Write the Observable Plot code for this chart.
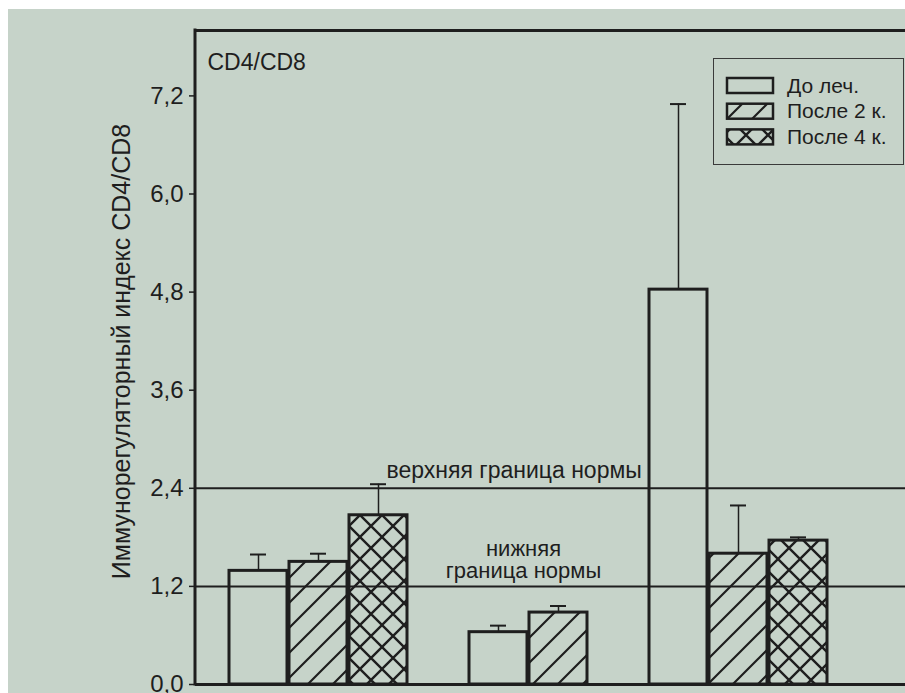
<!DOCTYPE html>
<html><head><meta charset="utf-8">
<script src="https://cdn.jsdelivr.net/npm/d3@7"></script>
<script src="https://cdn.jsdelivr.net/npm/@observablehq/plot@0.6"></script>
<style>
body{margin:0;background:#fff;font-family:"Liberation Sans",Arial,sans-serif;}
#wrap{position:absolute;left:8px;top:9px;width:897px;height:684px;background:#c6d3c9;overflow:hidden;}
#legend{position:absolute;left:705px;top:49px;}
</style></head><body>
<svg width="0" height="0" style="position:absolute">
<defs>
<pattern id="hatch" patternUnits="userSpaceOnUse" width="25" height="25">
<path d="M-3,3 L3,-3 M0,25 L25,0 M22,28 L28,22" stroke="#1e1e1e" stroke-width="2.2" fill="none"/>
</pattern>
<pattern id="cross" patternUnits="userSpaceOnUse" width="22" height="22">
<path d="M0,22 L22,0 M-3,3 L3,-3 M19,25 L25,19 M0,0 L22,22 M-3,19 L3,25 M19,-3 L25,3" stroke="#1e1e1e" stroke-width="2.4" fill="none"/>
</pattern>
</defs></svg>
<div id="wrap"><div id="legend"></div></div>
<script>
const groups = ["Группа 1", "Группа 2", "Группа 3"];
const series = ["До леч.", "После 2 к.", "После 4 к."];
const beforeMean = [1.39, 0.64, 4.83];
const beforeErr  = [0.20, 0.08, 2.27];
const after2Mean = [1.50, 0.88, 1.60];
const after2Err  = [0.10, 0.08, 0.59];
const after4Mean = [2.07, null, 1.76];
const after4Err  = [0.38, null, 0.04];
const yTicks = [0, 1.2, 2.4, 3.6, 4.8, 6.0, 7.2];
const normUpper = 2.4;
const normLower = 1.2;
const upperLabel = "верхняя граница нормы";
const lowerLabel = "нижняя\nграница нормы";
const panelTitle = "CD4/CD8";
const yLabel = "Иммунорегуляторный индекс CD4/CD8";

const fills = {"До леч.": "none", "После 2 к.": "url(#hatch)", "После 4 к.": "url(#cross)"};
const means = [beforeMean, after2Mean, after4Mean];
const errs = [beforeErr, after2Err, after4Err];
const rows = [];
groups.forEach((g, i) => series.forEach((s, j) => {
  if (means[j][i] != null) rows.push({group: g, series: s, key: g + "|" + s, mean: means[j][i], err: errs[j][i]});
}));
const domain = groups.flatMap((g, i) => [...series.map(s => g + "|" + s), ...(i === 0 ? ["spacer"] : [])]);
const ink = "#1e1e1e";
const fmt = d => d3.format(".1f")(d).replace(".", ",");

const leftLine = (...args) => {
  const dim = args.find(a => a && a.marginLeft !== undefined);
  return d3.create("svg:line")
    .attr("x1", dim.marginLeft).attr("x2", dim.marginLeft)
    .attr("y1", dim.marginTop - 1.5).attr("y2", dim.height - dim.marginBottom + 1.5)
    .attr("stroke", ink).attr("stroke-width", 3).node();
};

const plot = Plot.plot({
  width: 897, height: 684,
  marginLeft: 187, marginRight: 0, marginTop: 21, marginBottom: 9,
  style: {background: "transparent", fontFamily: "Liberation Sans, Arial, sans-serif", color: ink, overflow: "visible"},
  x: {type: "band", domain, padding: 0, insetLeft: 31, insetRight: 75, axis: null},
  y: {domain: [0, 8]},
  marks: [
    Plot.ruleY([normUpper, normLower], {stroke: ink, strokeWidth: 2}),
    ...series.map(s => Plot.barY(rows.filter(d => d.series === s), {x: "key", y: "mean", fill: fills[s], stroke: ink, strokeWidth: 3, insetLeft: 1, insetRight: 1})),
    Plot.ruleX(rows, {x: "key", y1: "mean", y2: d => d.mean + d.err, stroke: ink, strokeWidth: 1.5}),
    Plot.tickY(rows, {x: "key", y: d => d.mean + d.err, stroke: ink, strokeWidth: 2, insetLeft: 22, insetRight: 22}),
    Plot.ruleY([0], {stroke: ink, strokeWidth: 3}),
    Plot.ruleY([8], {stroke: ink, strokeWidth: 3}),
    leftLine,
    Plot.axisY({ticks: yTicks, tickFormat: fmt, tickSize: 6, tickPadding: 6, fontSize: 24, label: null, strokeWidth: 1.5}),
    Plot.text([upperLabel], {frameAnchor: "left", y: () => normUpper, dx: 191, dy: -10, textAnchor: "start", lineAnchor: "bottom", fontSize: 23, fill: ink}),
    Plot.text([lowerLabel], {frameAnchor: "left", y: () => normLower, dx: 328, dy: -8, textAnchor: "middle", lineAnchor: "bottom", lineHeight: 1.02, fontSize: 22, fill: ink}),
    Plot.text([panelTitle], {frameAnchor: "top-left", dx: 12, dy: 23, textAnchor: "start", fontSize: 23, fill: ink}),
    Plot.text([yLabel], {frameAnchor: "left", rotate: -90, dx: -74, dy: -6, textAnchor: "middle", fontSize: 25, fill: ink})
  ]
});
document.getElementById("wrap").prepend(plot);

// legend
const lg = d3.select("#legend").append("svg").attr("width", 192).attr("height", 108)
  .style("font-family", "Liberation Sans, Arial, sans-serif");
lg.append("rect").attr("x", 0.5).attr("y", 0.5).attr("width", 190).attr("height", 106)
  .attr("fill", "none").attr("stroke", "#3a3a3a").attr("stroke-width", 1);
series.forEach((s, i) => {
  lg.append("rect").attr("x", 14).attr("y", 20 + i * 25.7).attr("width", 46).attr("height", 15)
    .attr("fill", fills[s]).attr("stroke", ink).attr("stroke-width", 2.5);
  lg.append("text").attr("x", 74).attr("y", 34.7 + i * 25.7).attr("font-size", 21).attr("fill", ink).text(s);
});
</script>
</body></html>
